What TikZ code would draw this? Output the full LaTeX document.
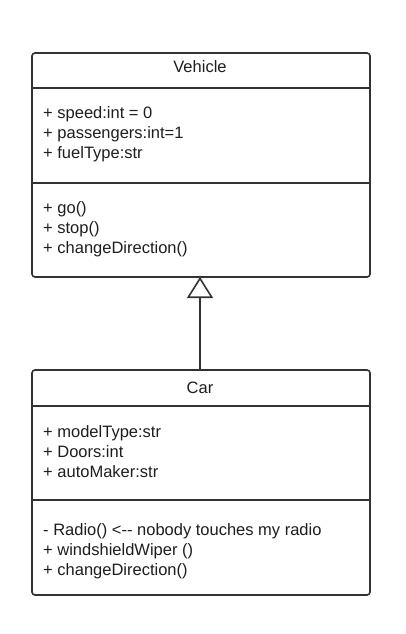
\documentclass[tikz,border=0pt]{standalone}
\usepackage{fontspec}
\setmainfont{Liberation Sans}
\usetikzlibrary{arrows.meta}
\definecolor{linec}{HTML}{333333}
\definecolor{textc}{HTML}{1E1E1E}
\begin{document}
\begin{tikzpicture}[x=1pt,y=-1pt,
  classbox/.style={draw=linec,line width=1.6pt,rounded corners=3pt,fill=white},
  divider/.style={draw=linec,line width=1.6pt},
  title/.style={font=\fontsize{16.5}{20}\selectfont,text=textc,anchor=base,inner sep=0pt},
  member/.style={font=\fontsize{16.5}{20}\selectfont,text=textc,anchor=base west,inner sep=0pt},
  inherit/.style={draw=linec,line width=1.6pt,-{Triangle[open,width=26pt,length=21pt,line width=1.6pt]}}
]
\useasboundingbox (0,0) rectangle (406,634);
% Vehicle
\draw[classbox] (32,53) rectangle (370,277);
\coordinate (vbot) at (200,277);
\draw[divider] (32,88) -- (370,88);
\draw[divider] (32,183) -- (370,183);
\node[title] (vtitle) at (200,73) {Vehicle};
\node[member] (va1) at (43,118) {+ speed:int = 0};
\node[member] (va2) at (43,138) {+ passengers:int=1};
\node[member] (va3) at (43,158) {+ fuelType:str};
\node[member] (vm1) at (43,213) {+ go()};
\node[member] (vm2) at (43,233) {+ stop()};
\node[member] (vm3) at (43,253) {+ changeDirection()};
% Car
\draw[classbox] (32,370) rectangle (370,595);
\coordinate (ctop) at (200,370);
\draw[divider] (32,406) -- (370,406);
\draw[divider] (32,500) -- (370,500);
\node[title] (ctitle) at (200,393) {Car};
\node[member] (ca1) at (43,437) {+ modelType:str};
\node[member] (ca2) at (43,457) {+ Doors:int};
\node[member] (ca3) at (43,477) {+ autoMaker:str};
\node[member] (cm1) at (43,535) {- Radio() <-{}- nobody touches my radio};
\node[member] (cm2) at (43,555) {+ windshieldWiper ()};
\node[member] (cm3) at (43,575) {+ changeDirection()};
% inheritance
\draw[inherit] (ctop) -- (vbot);
\end{tikzpicture}
\end{document}
